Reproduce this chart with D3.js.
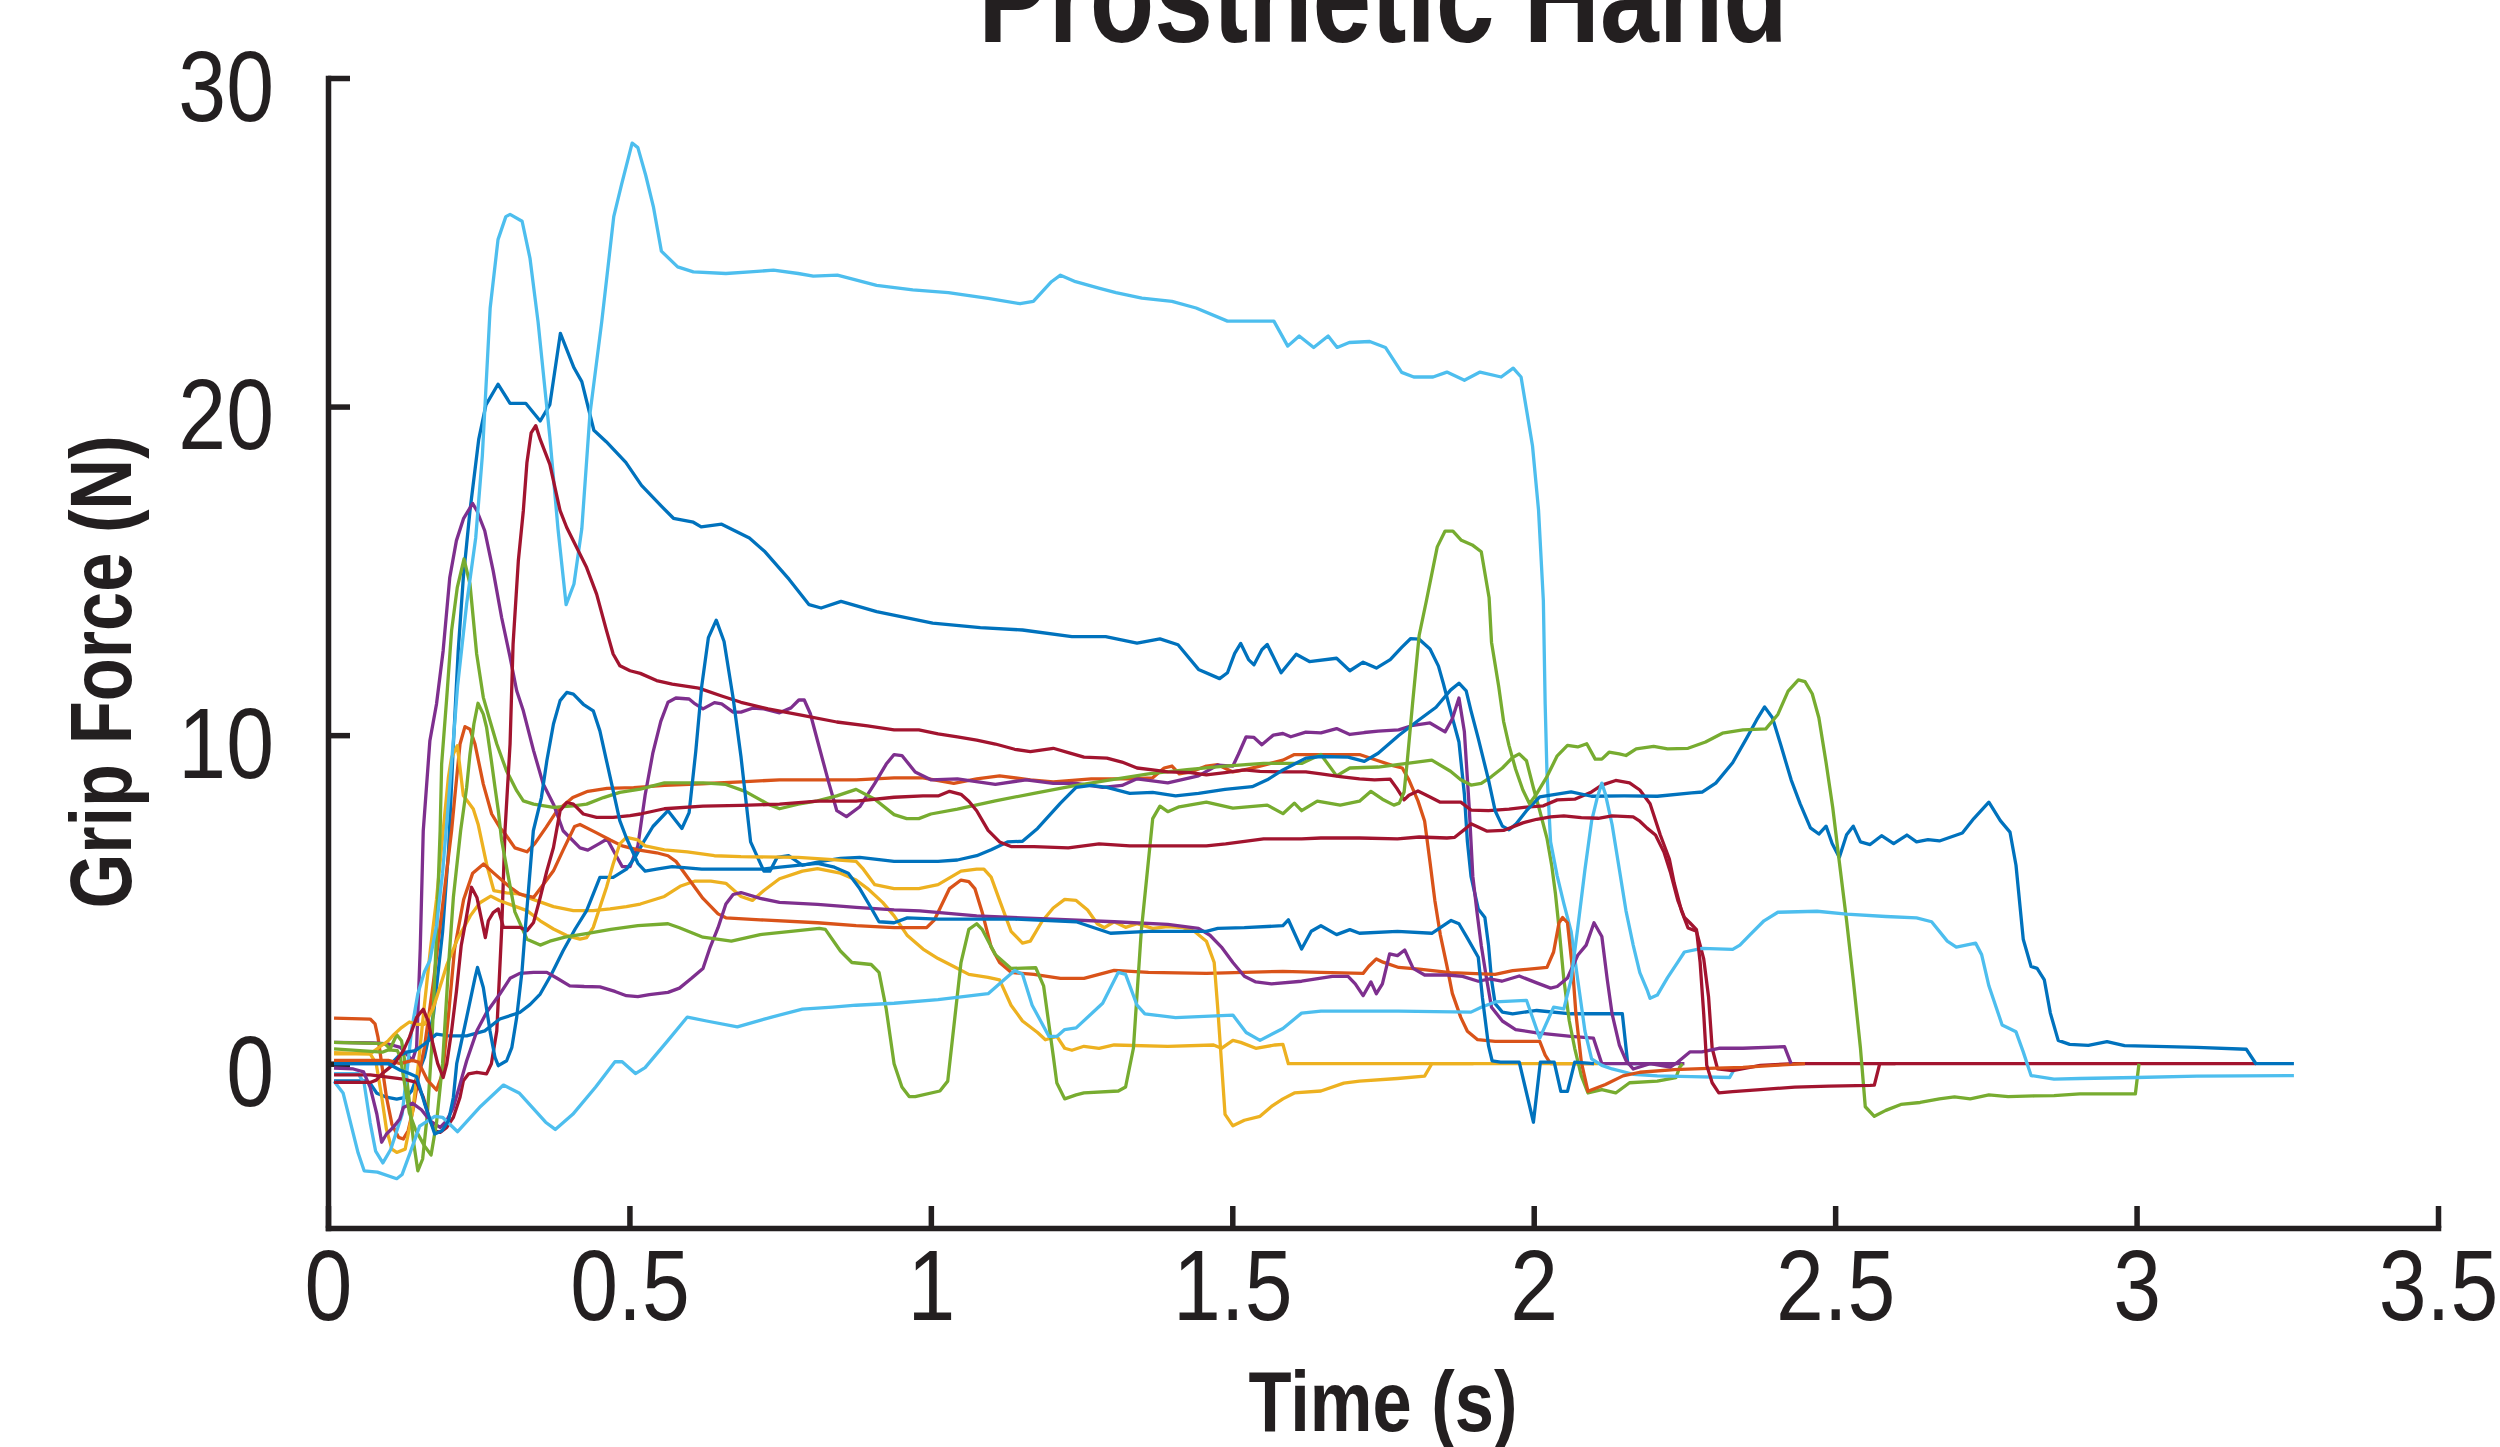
<!DOCTYPE html>
<html>
<head>
<meta charset="utf-8">
<script src="https://cdn.jsdelivr.net/npm/d3@7"></script>
<style>
  html, body { margin: 0; padding: 0; background: #fff; }
</style>
</head>
<body>
<script>
// grip force traces, [time (s), force (N)]

const blueA = [[0.01,-0.52],[0.06,-0.52],[0.07,-0.6],[0.081,-0.9],[0.097,-1.02],[0.114,-1.08],[0.13,-1.02],[0.139,-0.82],[0.147,-0.42],[0.16,0.2],[0.175,1.5],[0.19,4],[0.2,6.5],[0.208,9.73],[0.216,12.57],[0.2245,14.8],[0.23,15.81],[0.2355,16.83],[0.25,19.0],[0.262,20.05],[0.282,20.68],[0.302,20.1],[0.328,20.1],[0.352,19.56],[0.368,20.06],[0.3855,22.23],[0.408,21.18],[0.421,20.76],[0.441,19.28],[0.4615,18.93],[0.494,18.3],[0.52,17.6],[0.553,16.97],[0.573,16.6],[0.606,16.48],[0.619,16.34],[0.653,16.42],[0.699,16.0],[0.725,15.58],[0.765,14.74],[0.798,13.97],[0.818,13.87],[0.851,14.07],[0.91,13.76],[1.003,13.41],[1.082,13.27],[1.152,13.2],[1.234,13.0],[1.29,13.0],[1.342,12.8],[1.38,12.93],[1.41,12.75],[1.444,12.0],[1.479,11.72],[1.492,11.9],[1.504,12.49],[1.514,12.79],[1.527,12.3],[1.536,12.14],[1.549,12.6],[1.558,12.76],[1.581,11.9],[1.606,12.46],[1.628,12.24],[1.673,12.34],[1.695,11.96],[1.717,12.22],[1.739,12.04],[1.762,12.3],[1.781,12.67],[1.796,12.94],[1.81,12.92],[1.828,12.62],[1.842,12.1],[1.85,11.58],[1.862,10.74],[1.876,9.79],[1.885,8.2],[1.89,6.76],[1.896,5.7],[1.908,4.71],[1.919,4.45],[1.925,3.61],[1.93,2.56],[1.936,1.83],[1.948,1.57],[1.965,1.52],[2.005,1.62],[2.062,1.52],[2.147,1.52],[2.156,0],[2.2,0]];

const orangeA = [[0.01,1.39],[0.07,1.36],[0.078,1.21],[0.083,0.8],[0.089,0],[0.097,-1.02],[0.106,-1.84],[0.117,-2.24],[0.125,-2.29],[0.133,-2.04],[0.142,-1.33],[0.15,-0.4],[0.16,0.5],[0.175,2.5],[0.19,4.8],[0.205,7.09],[0.2107,8.2],[0.219,9.73],[0.2272,10.26],[0.2355,10.18],[0.2438,9.73],[0.2576,8.51],[0.2715,7.6],[0.285,7.19],[0.2936,7.0],[0.31,6.57],[0.33,6.45],[0.343,6.7],[0.362,7.2],[0.38,7.7],[0.406,8.1],[0.431,8.29],[0.463,8.38],[0.507,8.4],[0.558,8.47],[0.62,8.52],[0.685,8.58],[0.749,8.64],[0.876,8.64],[0.939,8.7],[0.987,8.7],[1.038,8.53],[1.076,8.67],[1.114,8.76],[1.165,8.64],[1.203,8.58],[1.266,8.67],[1.33,8.67],[1.368,8.7],[1.387,9.0],[1.4,9.06],[1.412,8.82],[1.431,8.88],[1.457,9.06],[1.476,9.1],[1.501,8.88],[1.52,8.94],[1.546,9.06],[1.584,9.24],[1.603,9.41],[1.647,9.41],[1.711,9.41],[1.742,9.22],[1.765,9.08],[1.782,9.0],[1.793,8.64],[1.808,8.0],[1.819,7.39],[1.828,6.13],[1.836,4.97],[1.845,3.93],[1.856,2.98],[1.865,2.14],[1.879,1.41],[1.89,0.99],[1.907,0.73],[1.936,0.68],[2.01,0.68],[2.019,0.26],[2.028,0],[2.1,0]];

const yellowA = [[0.01,0.34],[0.07,0.3],[0.08,0.0],[0.089,-1.0],[0.097,-2.0],[0.106,-2.6],[0.114,-2.7],[0.128,-2.6],[0.14,-1.5],[0.15,0],[0.16,1.8],[0.17,3.5],[0.18,5.0],[0.191,7.09],[0.1996,8.7],[0.205,9.32],[0.2145,9.68],[0.2245,8.16],[0.241,7.75],[0.249,7.29],[0.263,6.08],[0.275,5.27],[0.296,5.2],[0.318,5.17],[0.34,5.0],[0.374,4.78],[0.407,4.66],[0.44,4.66],[0.468,4.71],[0.495,4.78],[0.518,4.86],[0.558,5.09],[0.584,5.4],[0.609,5.56],[0.635,5.56],[0.66,5.49],[0.685,5.09],[0.704,4.97],[0.723,5.27],[0.749,5.63],[0.787,5.86],[0.812,5.94],[0.85,5.8],[0.876,5.59],[0.895,5.33],[0.92,4.91],[0.939,4.5],[0.961,3.9],[0.987,3.49],[1.012,3.2],[1.038,2.96],[1.063,2.72],[1.095,2.63],[1.114,2.55],[1.133,1.78],[1.152,1.3],[1.177,0.95],[1.19,0.73],[1.209,0.83],[1.222,0.47],[1.234,0.41],[1.254,0.53],[1.279,0.47],[1.304,0.57],[1.393,0.53],[1.469,0.57],[1.482,0.47],[1.501,0.71],[1.514,0.65],[1.539,0.47],[1.571,0.57],[1.584,0.59],[1.593,0],[2.107,0]];

const purpleA = [[0.01,0.65],[0.075,0.63],[0.1,0.6],[0.12,0.5],[0.13,0.3],[0.14,0.1],[0.147,0.5],[0.153,3.5],[0.158,7.09],[0.169,9.83],[0.18,10.95],[0.191,12.57],[0.202,14.8],[0.213,15.92],[0.225,16.6],[0.24,17.05],[0.247,16.83],[0.26,16.22],[0.274,15.0],[0.288,13.58],[0.302,12.37],[0.313,11.35],[0.324,10.74],[0.341,9.53],[0.357,8.51],[0.374,7.9],[0.39,7.09],[0.418,6.57],[0.431,6.5],[0.45,6.7],[0.463,6.84],[0.476,6.4],[0.488,6.0],[0.501,6.0],[0.514,6.63],[0.526,8.17],[0.539,9.47],[0.552,10.42],[0.564,11.0],[0.577,11.13],[0.599,11.1],[0.609,10.95],[0.622,10.8],[0.641,10.99],[0.653,10.95],[0.672,10.7],[0.685,10.7],[0.704,10.82],[0.723,10.8],[0.749,10.68],[0.768,10.83],[0.781,11.07],[0.79,11.07],[0.8,10.66],[0.812,9.83],[0.831,8.53],[0.844,7.7],[0.86,7.52],[0.882,7.82],[0.907,8.53],[0.926,9.12],[0.939,9.41],[0.952,9.38],[0.974,8.88],[1.0,8.64],[1.044,8.67],[1.107,8.5],[1.158,8.64],[1.203,8.53],[1.241,8.53],[1.285,8.41],[1.317,8.47],[1.342,8.67],[1.393,8.55],[1.444,8.76],[1.476,9.09],[1.501,9.06],[1.51,9.41],[1.523,9.95],[1.536,9.93],[1.549,9.71],[1.568,10.0],[1.584,10.05],[1.597,9.95],[1.622,10.09],[1.647,10.07],[1.673,10.2],[1.695,10.02],[1.719,10.08],[1.742,10.12],[1.776,10.16],[1.8,10.3],[1.828,10.37],[1.853,10.1],[1.865,10.5],[1.876,11.13],[1.885,10.1],[1.893,7.8],[1.899,5.7],[1.906,4.6],[1.913,3.6],[1.922,2.56],[1.93,1.72],[1.948,1.3],[1.97,1.04],[2.005,0.94],[2.062,0.83],[2.099,0.78],[2.113,0],[2.25,0]];

const greenA = [[0.01,0.65],[0.08,0.62],[0.095,0.6],[0.103,0.45],[0.114,0.88],[0.122,0.7],[0.128,0],[0.134,-1.0],[0.142,-2.4],[0.149,-3.26],[0.157,-2.9],[0.165,-1.5],[0.172,0.5],[0.179,3.5],[0.186,7.09],[0.1885,9.12],[0.197,11.15],[0.205,13.18],[0.2145,14.5],[0.2256,15.36],[0.2355,14.6],[0.2466,12.47],[0.2576,11.15],[0.2687,10.44],[0.28,9.73],[0.296,8.92],[0.313,8.31],[0.324,8.0],[0.341,7.9],[0.374,7.8],[0.407,7.85],[0.429,7.9],[0.457,8.1],[0.484,8.26],[0.518,8.36],[0.558,8.55],[0.622,8.55],[0.66,8.5],[0.692,8.29],[0.73,7.9],[0.749,7.76],[0.78,7.9],[0.812,8.0],[0.844,8.15],[0.876,8.35],[0.907,8.05],[0.939,7.58],[0.96,7.46],[0.98,7.46],[1.0,7.6],[1.044,7.75],[1.107,8.0],[1.171,8.23],[1.234,8.45],[1.298,8.64],[1.361,8.82],[1.425,8.95],[1.488,9.06],[1.552,9.14],[1.615,9.14],[1.647,9.41],[1.673,8.76],[1.695,9.0],[1.742,9.03],[1.79,9.14],[1.831,9.24],[1.862,8.9],[1.879,8.64],[1.896,8.48],[1.913,8.53],[1.93,8.74],[1.948,9.0],[1.965,9.32],[1.976,9.43],[1.988,9.22],[1.999,8.43],[2.01,7.7],[2.022,6.86],[2.03,6.02],[2.036,5.18],[2.042,4.13],[2.05,2.56],[2.059,1.3],[2.068,0.47],[2.079,-0.37],[2.09,-0.89],[2.113,-0.79],[2.136,-0.89],[2.159,-0.58],[2.205,-0.53],[2.236,-0.42],[2.242,-0.11],[2.247,0]];

const lightBlueA = [[0.01,-0.3],[0.05,-0.3],[0.06,-0.6],[0.07,-1.8],[0.079,-2.66],[0.091,-3.02],[0.104,-2.61],[0.123,-1.54],[0.139,1.07],[0.149,2.13],[0.16,2.8],[0.169,3.14],[0.18,4.2],[0.19,5.8],[0.2,8],[0.215,11.5],[0.23,14],[0.245,16],[0.256,18.5],[0.269,23.0],[0.282,25.08],[0.295,25.78],[0.302,25.85],[0.322,25.64],[0.335,24.52],[0.3485,22.57],[0.368,19.07],[0.3815,16.28],[0.395,13.97],[0.408,14.6],[0.421,16.28],[0.4345,19.77],[0.454,22.57],[0.474,25.78],[0.487,26.76],[0.5045,28.02],[0.514,27.88],[0.527,27.04],[0.54,26.06],[0.553,24.73],[0.58,24.25],[0.606,24.1],[0.66,24.05],[0.7,24.1],[0.739,24.15],[0.78,24.05],[0.805,23.97],[0.845,24.0],[0.91,23.69],[0.97,23.55],[1.029,23.47],[1.095,23.29],[1.148,23.13],[1.17,23.2],[1.2,23.8],[1.215,24.0],[1.24,23.8],[1.28,23.6],[1.307,23.47],[1.35,23.3],[1.4,23.2],[1.44,23.0],[1.492,22.6],[1.529,22.6],[1.569,22.6],[1.592,21.84],[1.611,22.15],[1.635,21.8],[1.659,22.15],[1.674,21.8],[1.694,21.95],[1.728,21.98],[1.754,21.8],[1.781,21.04],[1.801,20.9],[1.833,20.9],[1.856,21.05],[1.885,20.8],[1.911,21.05],[1.946,20.9],[1.966,21.17],[1.979,20.9],[1.989,19.8],[1.998,18.8],[2.008,16.85],[2.016,14.09],[2.019,10.95],[2.022,8.85],[2.028,6.75],[2.039,5.71],[2.05,4.87],[2.062,4.03],[2.073,2.56],[2.085,0.99],[2.096,0.15],[2.113,-0.05],[2.13,-0.16],[2.165,-0.32],[2.205,-0.37],[2.262,-0.39],[2.325,-0.42],[2.333,-0.16]];

const darkRedA = [[0.01,-0.34],[0.07,-0.34],[0.125,-0.47],[0.147,-0.57],[0.158,-1.02],[0.169,-1.73],[0.177,-2.04],[0.186,-2.09],[0.197,-1.94],[0.208,-1.63],[0.219,-1.02],[0.2245,-0.52],[0.233,-0.31],[0.247,-0.26],[0.263,-0.31],[0.271,0],[0.28,1.0],[0.288,4.05],[0.2936,7.09],[0.302,9.73],[0.307,12.77],[0.3157,15.3],[0.324,16.83],[0.33,18.3],[0.337,19.2],[0.3446,19.42],[0.352,19.0],[0.368,18.24],[0.385,16.83],[0.396,16.32],[0.4125,15.71],[0.429,15.1],[0.4456,14.29],[0.462,13.18],[0.473,12.47],[0.4843,12.11],[0.501,11.96],[0.518,11.88],[0.545,11.66],[0.571,11.55],[0.615,11.43],[0.653,11.19],[0.685,11.0],[0.73,10.8],[0.787,10.6],[0.844,10.4],[0.895,10.28],[0.939,10.16],[0.98,10.16],[1.012,10.04],[1.044,9.95],[1.076,9.85],[1.107,9.73],[1.139,9.57],[1.165,9.5],[1.203,9.6],[1.228,9.47],[1.254,9.33],[1.292,9.3],[1.317,9.18],[1.342,9.0],[1.368,8.94],[1.393,8.88],[1.431,8.86],[1.457,8.79],[1.488,8.86],[1.52,8.94],[1.546,8.9],[1.584,8.88],[1.622,8.88],[1.647,8.82],[1.679,8.74],[1.711,8.67],[1.736,8.64],[1.762,8.66],[1.773,8.38],[1.785,8.03],[1.793,8.17],[1.808,8.3],[1.828,8.12],[1.845,7.96],[1.879,7.96],[1.896,7.72],[1.925,7.7],[1.959,7.75],[1.993,7.82],[2.016,7.85],[2.039,8.03],[2.068,8.05],[2.096,8.27],[2.113,8.48],[2.136,8.62],[2.159,8.55],[2.176,8.33],[2.193,7.91],[2.21,6.96],[2.225,6.23],[2.233,5.5],[2.245,4.66],[2.256,4.13],[2.27,4.03],[2.282,3.19],[2.29,2.04],[2.296,0.47],[2.305,-0.16],[2.33,-0.21],[2.376,-0.05],[2.433,0],[3.198,0]];

const blueB = [[0.01,0],[0.105,0],[0.118,0.25],[0.13,0.35],[0.145,0.4],[0.16,0.6],[0.18,0.9],[0.2,0.85],[0.23,0.85],[0.26,1.0],[0.285,1.36],[0.318,1.56],[0.335,1.8],[0.352,2.12],[0.37,2.7],[0.39,3.44],[0.41,4.1],[0.429,4.66],[0.451,5.67],[0.473,5.67],[0.495,5.92],[0.51,6.3],[0.525,6.8],[0.539,7.22],[0.564,7.7],[0.587,7.16],[0.599,7.64],[0.61,9.5],[0.62,11.5],[0.631,12.97],[0.644,13.5],[0.657,12.85],[0.672,11.13],[0.685,9.35],[0.701,6.75],[0.723,5.86],[0.733,5.86],[0.745,6.28],[0.764,6.33],[0.787,6.04],[0.818,6.16],[0.85,6.25],[0.882,6.28],[0.939,6.16],[1.012,6.16],[1.044,6.2],[1.076,6.33],[1.1,6.51],[1.127,6.75],[1.152,6.77],[1.177,7.16],[1.215,7.93],[1.241,8.41],[1.266,8.47],[1.292,8.41],[1.33,8.23],[1.368,8.26],[1.406,8.15],[1.444,8.23],[1.488,8.35],[1.533,8.43],[1.558,8.64],[1.584,8.94],[1.622,9.3],[1.647,9.35],[1.692,9.33],[1.719,9.2],[1.742,9.45],[1.776,9.99],[1.81,10.47],[1.838,10.85],[1.862,11.37],[1.876,11.58],[1.888,11.35],[1.896,10.74],[1.908,9.9],[1.925,8.64],[1.936,7.7],[1.948,7.23],[1.959,7.12],[1.971,7.3],[1.988,7.7],[2.01,8.12],[2.062,8.27],[2.096,8.14],[2.15,8.15],[2.205,8.14],[2.262,8.24],[2.28,8.27],[2.302,8.54],[2.33,9.16],[2.353,9.9],[2.37,10.47],[2.383,10.86],[2.396,10.53],[2.41,9.69],[2.427,8.64],[2.442,7.91],[2.459,7.18],[2.473,6.99],[2.485,7.23],[2.495,6.7],[2.507,6.28],[2.519,6.97],[2.53,7.23],[2.542,6.75],[2.558,6.67],[2.577,6.94],[2.597,6.7],[2.619,6.96],[2.635,6.75],[2.654,6.82],[2.673,6.78],[2.711,7.02],[2.73,7.46],[2.755,7.96],[2.774,7.4],[2.79,7.05],[2.8,6.04],[2.812,3.79],[2.825,2.96],[2.835,2.9],[2.847,2.55],[2.857,1.54],[2.87,0.71],[2.889,0.59],[2.92,0.56],[2.951,0.67],[2.98,0.55],[3.05,0.52],[3.1,0.5],[3.182,0.44],[3.198,0],[3.261,0]];

const orangeB = [[0.01,0.1],[0.1,0.1],[0.12,0.0],[0.14,0.1],[0.15,0.05],[0.165,-0.5],[0.18,-0.8],[0.19,-0.3],[0.2,1.5],[0.21,3.5],[0.225,5.0],[0.24,5.8],[0.258,6.08],[0.275,5.8],[0.3,5.4],[0.318,5.16],[0.341,5.06],[0.355,5.4],[0.374,5.87],[0.39,6.5],[0.409,7.22],[0.418,7.28],[0.444,7.04],[0.469,6.8],[0.488,6.63],[0.514,6.51],[0.545,6.42],[0.564,6.33],[0.577,6.16],[0.596,5.68],[0.622,5.03],[0.647,4.56],[0.66,4.44],[0.717,4.38],[0.812,4.29],[0.876,4.2],[0.939,4.14],[0.993,4.14],[1.006,4.38],[1.031,5.33],[1.05,5.59],[1.063,5.54],[1.073,5.33],[1.085,4.62],[1.1,3.55],[1.114,3.08],[1.133,2.78],[1.171,2.72],[1.215,2.6],[1.254,2.6],[1.279,2.72],[1.304,2.84],[1.361,2.78],[1.457,2.75],[1.584,2.81],[1.647,2.78],[1.717,2.75],[1.726,2.96],[1.739,3.19],[1.75,3.09],[1.776,2.93],[1.81,2.88],[1.862,2.77],[1.936,2.72],[1.965,2.83],[2.022,2.93],[2.033,3.4],[2.042,4.29],[2.048,4.45],[2.056,4.29],[2.065,2.77],[2.07,1.52],[2.079,0.05],[2.09,-0.84],[2.119,-0.63],[2.148,-0.37],[2.176,-0.26],[2.233,-0.18],[2.29,-0.14],[2.347,-0.11],[2.399,-0.05],[2.45,0]];

const yellowB = [[0.01,0.3],[0.07,0.3],[0.085,0.5],[0.1,0.7],[0.11,0.9],[0.122,1.1],[0.135,1.27],[0.147,1.2],[0.16,1.2],[0.175,1.71],[0.197,3.0],[0.215,3.8],[0.236,4.5],[0.252,4.9],[0.27,5.1],[0.285,4.96],[0.307,4.81],[0.33,4.66],[0.352,4.35],[0.374,4.1],[0.396,3.9],[0.418,3.79],[0.429,3.84],[0.44,4.15],[0.451,4.76],[0.462,5.37],[0.473,6.08],[0.484,6.69],[0.495,6.89],[0.514,6.81],[0.526,6.63],[0.558,6.51],[0.596,6.45],[0.641,6.33],[0.685,6.3],[0.78,6.28],[0.831,6.22],[0.876,6.16],[0.888,5.92],[0.907,5.45],[0.939,5.33],[0.98,5.33],[1.012,5.45],[1.05,5.86],[1.076,5.92],[1.088,5.92],[1.1,5.68],[1.114,4.97],[1.133,4.03],[1.152,3.67],[1.165,3.73],[1.184,4.32],[1.203,4.74],[1.222,5.0],[1.241,4.97],[1.26,4.68],[1.276,4.26],[1.288,4.14],[1.304,4.32],[1.323,4.15],[1.342,4.26],[1.368,4.12],[1.393,4.17],[1.418,4.14],[1.437,4.03],[1.457,3.73],[1.47,3.08],[1.476,1.66],[1.488,-1.54],[1.501,-1.89],[1.52,-1.72],[1.546,-1.6],[1.565,-1.3],[1.584,-1.07],[1.603,-0.89],[1.647,-0.83],[1.685,-0.59],[1.711,-0.53],[1.774,-0.45],[1.819,-0.38],[1.831,0],[1.9,0]];

const purpleB = [[0.01,-0.13],[0.042,-0.16],[0.059,-0.25],[0.07,-0.72],[0.081,-1.53],[0.089,-2.39],[0.097,-2.14],[0.108,-1.94],[0.119,-1.68],[0.125,-1.33],[0.14,-1.2],[0.155,-1.4],[0.17,-1.75],[0.186,-1.94],[0.197,-1.73],[0.208,-1.33],[0.219,-0.62],[0.23,0.09],[0.247,1.0],[0.263,1.56],[0.285,2.12],[0.302,2.6],[0.318,2.75],[0.341,2.78],[0.363,2.78],[0.38,2.6],[0.401,2.37],[0.425,2.35],[0.451,2.34],[0.476,2.2],[0.495,2.07],[0.514,2.04],[0.533,2.1],[0.564,2.17],[0.583,2.3],[0.603,2.6],[0.622,2.9],[0.634,3.55],[0.647,4.14],[0.66,4.86],[0.672,5.15],[0.685,5.21],[0.717,5.03],[0.749,4.91],[0.812,4.85],[0.876,4.76],[0.939,4.68],[0.982,4.65],[1.076,4.5],[1.203,4.4],[1.304,4.32],[1.393,4.24],[1.444,4.12],[1.463,3.91],[1.482,3.55],[1.501,3.08],[1.52,2.66],[1.539,2.49],[1.565,2.43],[1.615,2.51],[1.666,2.66],[1.692,2.66],[1.704,2.43],[1.717,2.07],[1.73,2.49],[1.739,2.13],[1.749,2.43],[1.761,3.34],[1.774,3.29],[1.786,3.46],[1.8,2.9],[1.819,2.7],[1.857,2.7],[1.882,2.66],[1.908,2.51],[1.927,2.58],[1.947,2.51],[1.976,2.67],[2.005,2.46],[2.028,2.3],[2.039,2.35],[2.056,2.61],[2.073,3.3],[2.087,3.61],[2.1,4.29],[2.113,3.87],[2.122,2.56],[2.13,1.52],[2.142,0.57],[2.153,0.1],[2.165,-0.16],[2.193,0],[2.227,-0.1],[2.239,0.05],[2.259,0.36],[2.279,0.36],[2.307,0.47],[2.347,0.47],[2.416,0.52],[2.427,0]];

const greenB = [[0.01,0.45],[0.09,0.35],[0.1,0.42],[0.115,0.4],[0.12,0.2],[0.127,-0.6],[0.135,-1.5],[0.145,-2.0],[0.16,-2.5],[0.171,-2.78],[0.18,-1.8],[0.19,0],[0.2,3],[0.208,5.07],[0.22,7.09],[0.23,8.41],[0.2355,9.42],[0.242,10.34],[0.2488,10.97],[0.2576,10.64],[0.263,10.24],[0.271,9.22],[0.277,8.41],[0.2825,7.7],[0.288,6.8],[0.298,5.8],[0.31,4.62],[0.33,3.79],[0.352,3.61],[0.368,3.73],[0.393,3.85],[0.431,3.97],[0.469,4.09],[0.514,4.2],[0.564,4.26],[0.583,4.14],[0.622,3.85],[0.669,3.73],[0.717,3.93],[0.768,4.03],[0.815,4.12],[0.825,4.09],[0.85,3.43],[0.869,3.08],[0.901,3.02],[0.914,2.78],[0.926,1.66],[0.939,0],[0.952,-0.71],[0.964,-1.0],[0.974,-1.0],[1.015,-0.83],[1.028,-0.53],[1.05,3.08],[1.063,4.09],[1.076,4.26],[1.085,4.09],[1.107,3.32],[1.133,2.9],[1.174,2.92],[1.187,2.37],[1.203,0.24],[1.209,-0.59],[1.222,-1.07],[1.241,-0.95],[1.254,-0.89],[1.311,-0.83],[1.323,-0.71],[1.336,0.47],[1.349,4.03],[1.368,7.46],[1.38,7.84],[1.393,7.67],[1.412,7.82],[1.457,7.96],[1.501,7.78],[1.558,7.87],[1.584,7.61],[1.603,7.93],[1.615,7.7],[1.641,7.99],[1.679,7.87],[1.711,7.99],[1.73,8.29],[1.749,8.05],[1.768,7.87],[1.777,7.93],[1.785,8.27],[1.79,9.16],[1.799,10.95],[1.81,13.04],[1.822,14.09],[1.84,15.73],[1.853,16.21],[1.866,16.21],[1.88,15.93],[1.898,15.79],[1.913,15.58],[1.926,14.18],[1.93,12.83],[1.942,11.47],[1.95,10.42],[1.959,9.69],[1.97,8.96],[1.982,8.33],[1.993,7.91],[2.005,8.22],[2.022,8.74],[2.039,9.37],[2.056,9.69],[2.073,9.64],[2.088,9.74],[2.102,9.27],[2.113,9.27],[2.125,9.48],[2.142,9.43],[2.153,9.38],[2.17,9.58],[2.199,9.66],[2.222,9.58],[2.256,9.6],[2.285,9.79],[2.313,10.06],[2.347,10.16],[2.385,10.19],[2.405,10.63],[2.422,11.34],[2.439,11.68],[2.45,11.63],[2.462,11.26],[2.473,10.53],[2.485,9.16],[2.496,7.8],[2.507,6.13],[2.519,4.35],[2.53,2.56],[2.542,0.47],[2.55,-1.31],[2.565,-1.6],[2.584,-1.42],[2.609,-1.24],[2.641,-1.18],[2.673,-1.07],[2.698,-1.01],[2.724,-1.07],[2.755,-0.95],[2.787,-1.0],[2.831,-0.98],[2.863,-0.97],[2.906,-0.92],[2.95,-0.92],[2.998,-0.92],[3.004,0]];

const lightBlueB = [[0.01,-0.53],[0.025,-0.89],[0.05,-2.72],[0.06,-3.26],[0.082,-3.3],[0.114,-3.5],[0.123,-3.37],[0.136,-2.72],[0.152,-1.9],[0.177,-1.6],[0.19,-1.63],[0.215,-2.07],[0.253,-1.3],[0.291,-0.65],[0.317,-0.89],[0.361,-1.78],[0.377,-2.0],[0.406,-1.54],[0.444,-0.71],[0.476,0.06],[0.488,0.06],[0.51,-0.3],[0.526,-0.12],[0.564,0.71],[0.596,1.42],[0.628,1.3],[0.679,1.12],[0.736,1.42],[0.787,1.66],[0.837,1.72],[0.876,1.78],[0.939,1.84],[1.012,1.95],[1.095,2.13],[1.139,2.84],[1.152,2.72],[1.168,1.78],[1.196,0.83],[1.209,0.83],[1.222,1.04],[1.241,1.09],[1.285,1.84],[1.311,2.78],[1.323,2.72],[1.342,1.78],[1.355,1.52],[1.406,1.40],[1.501,1.48],[1.523,0.95],[1.546,0.71],[1.584,1.07],[1.615,1.54],[1.647,1.6],[1.776,1.6],[1.896,1.57],[1.913,1.72],[1.936,1.88],[1.988,1.93],[2.01,0.78],[2.033,1.72],[2.05,1.67],[2.062,2.56],[2.073,4.13],[2.085,5.91],[2.096,7.38],[2.105,8.07],[2.113,8.54],[2.119,8.2],[2.13,7.28],[2.142,5.92],[2.153,4.66],[2.165,3.61],[2.176,2.77],[2.188,2.25],[2.193,1.99],[2.205,2.09],[2.222,2.62],[2.239,3.09],[2.25,3.4],[2.279,3.51],[2.33,3.48],[2.342,3.61],[2.359,3.93],[2.382,4.35],[2.405,4.61],[2.47,4.64],[2.519,4.55],[2.584,4.48],[2.635,4.44],[2.66,4.32],[2.686,3.73],[2.701,3.55],[2.733,3.67],[2.743,3.32],[2.755,2.37],[2.777,1.18],[2.8,0.97],[2.812,0.36],[2.825,-0.36],[2.863,-0.47],[2.906,-0.45],[3.0,-0.42],[3.1,-0.38],[3.261,-0.36]];

const darkRedB = [[0.01,-0.57],[0.07,-0.57],[0.08,-0.5],[0.09,-0.3],[0.1,-0.15],[0.11,0],[0.125,0.4],[0.135,0.8],[0.147,1.41],[0.158,1.66],[0.166,1.3],[0.174,0.6],[0.182,0],[0.191,-0.42],[0.197,0],[0.205,1.0],[0.213,2.2],[0.221,3.6],[0.229,4.4],[0.238,5.37],[0.247,5.06],[0.254,4.45],[0.261,3.84],[0.266,4.35],[0.274,4.6],[0.2825,4.71],[0.291,4.15],[0.302,4.15],[0.318,4.15],[0.33,4.05],[0.341,4.3],[0.352,5.06],[0.363,5.87],[0.374,6.58],[0.385,7.7],[0.396,7.95],[0.407,7.9],[0.4235,7.6],[0.4456,7.5],[0.473,7.5],[0.501,7.55],[0.518,7.6],[0.558,7.76],[0.622,7.84],[0.685,7.86],[0.749,7.9],[0.812,7.99],[0.876,7.99],[0.939,8.11],[0.987,8.15],[1.012,8.15],[1.031,8.29],[1.05,8.2],[1.063,7.99],[1.076,7.7],[1.095,7.1],[1.114,6.75],[1.133,6.61],[1.171,6.61],[1.228,6.57],[1.279,6.69],[1.33,6.63],[1.393,6.63],[1.457,6.63],[1.489,6.69],[1.552,6.84],[1.615,6.84],[1.647,6.87],[1.711,6.87],[1.774,6.84],[1.81,6.9],[1.856,6.87],[1.869,6.89],[1.888,7.17],[1.896,7.3],[1.922,7.08],[1.95,7.1],[1.982,7.33],[2.005,7.44],[2.028,7.51],[2.05,7.54],[2.079,7.49],[2.107,7.47],[2.13,7.54],[2.165,7.51],[2.176,7.38],[2.188,7.17],[2.202,6.96],[2.216,6.44],[2.227,5.81],[2.239,4.97],[2.25,4.45],[2.259,4.29],[2.27,4.08],[2.276,3.09],[2.282,1.52],[2.287,-0.05],[2.296,-0.58],[2.307,-0.89],[2.33,-0.85],[2.376,-0.79],[2.433,-0.71],[2.49,-0.68],[2.558,-0.66],[2.565,-0.65],[2.574,0],[2.6,0]];

const blueC = [[0.01,0],[0.1,0],[0.12,-0.2],[0.135,-0.3],[0.147,-0.4],[0.16,-1.2],[0.177,-2.14],[0.189,-2.04],[0.2,-1.73],[0.208,-1.02],[0.2135,0],[0.23,1.41],[0.244,2.63],[0.248,2.93],[0.2576,2.32],[0.2687,1.0],[0.277,0.19],[0.2825,-0.06],[0.2963,0.09],[0.305,0.5],[0.313,1.41],[0.3219,2.83],[0.327,4.05],[0.3325,5.27],[0.3406,7.09],[0.354,8.1],[0.363,9.22],[0.374,10.34],[0.385,11.05],[0.396,11.3],[0.407,11.25],[0.4235,10.94],[0.44,10.74],[0.451,10.13],[0.462,9.22],[0.473,8.31],[0.484,7.4],[0.495,6.87],[0.514,6.1],[0.526,5.86],[0.545,5.92],[0.571,6.0],[0.62,5.92],[0.72,5.92],[0.75,5.98],[0.812,6.1],[0.84,5.98],[0.863,5.8],[0.882,5.33],[0.901,4.74],[0.914,4.32],[0.939,4.29],[0.961,4.44],[1.012,4.4],[1.139,4.4],[1.241,4.32],[1.298,3.97],[1.361,4.03],[1.457,4.03],[1.476,4.12],[1.52,4.14],[1.584,4.2],[1.593,4.38],[1.615,3.49],[1.631,4.03],[1.647,4.2],[1.673,3.93],[1.695,4.08],[1.711,3.97],[1.774,4.03],[1.831,3.97],[1.863,4.36],[1.876,4.26],[1.89,3.82],[1.908,3.24],[1.915,2.0],[1.925,0.55],[1.931,0.09],[1.945,0.05],[1.976,0.05],[1.9995,-1.78],[2.011,0.05],[2.034,0.05],[2.045,-0.84],[2.056,-0.84],[2.068,0.05],[2.1,0]];

const xTicks = [0, 0.5, 1, 1.5, 2, 2.5, 3, 3.5];
const yTicks = [0, 10, 20, 30];

// matlab default line colours
const palette = {
  blue: '#0072BD', orange: '#D95319', yellow: '#EDB120', purple: '#7E2F8E',
  green: '#77AC30', lightBlue: '#4DBEEE', darkRed: '#A2142F'
};

// plot order = colour order, later traces sit on top
const traces = [
  [blueA, palette.blue], [orangeA, palette.orange], [yellowA, palette.yellow],
  [purpleA, palette.purple], [greenA, palette.green], [lightBlueA, palette.lightBlue],
  [darkRedA, palette.darkRed],
  [blueB, palette.blue], [orangeB, palette.orange], [yellowB, palette.yellow],
  [purpleB, palette.purple], [greenB, palette.green], [lightBlueB, palette.lightBlue],
  [darkRedB, palette.darkRed],
  [blueC, palette.blue]
];

const width = 2500, height = 1447;
const ink = '#231f20';
const font = "'Liberation Sans', Arial, Helvetica, sans-serif";
const squeeze = 0.86;   // tick labels are a condensed face

const svg = d3.select('body').append('svg')
  .attr('width', width)
  .attr('height', height);

svg.append('rect').attr('width', width).attr('height', height).attr('fill', '#fff');

const x = d3.scaleLinear().domain([0, 3.5]).range([328, 2438]);
const y = d3.scaleLinear().domain([-5, 30]).range([1228, 78]);

// axes, ticks point inward
const xAxis = d3.axisBottom(x)
  .tickValues(xTicks)
  .tickFormat(d3.format('~g'))
  .tickSizeInner(-22)
  .tickSizeOuter(0)
  .tickPadding(21);
const gx = svg.append('g')
  .attr('transform', `translate(0,${y.range()[0]})`)
  .call(xAxis);

const yAxis = d3.axisLeft(y)
  .tickValues(yTicks)
  .tickFormat(d3.format('d'))
  .tickSizeInner(-22)
  .tickSizeOuter(0)
  .tickPadding(54);
const gy = svg.append('g')
  .attr('transform', `translate(${x.range()[0]},0)`)
  .call(yAxis);

[gx, gy].forEach(g => {
  g.attr('font-family', null).attr('font-size', null);
  g.select('.domain').attr('stroke', ink).attr('stroke-width', 5.5).attr('stroke-linecap', 'square');
  g.selectAll('.tick line').attr('stroke', ink).attr('stroke-width', 5.5);
  g.selectAll('.tick text')
    .attr('fill', ink)
    .attr('font-family', font)
    .attr('font-size', 100);
});
gx.selectAll('.tick text').attr('transform', `scale(${squeeze},1)`);
gy.selectAll('.tick text')
  .attr('x', -54 / squeeze)
  .attr('dy', '0.42em')
  .attr('transform', `scale(${squeeze},1)`);

// traces
const line = d3.line()
  .x(d => x(d[0]))
  .y(d => y(d[1]));

svg.append('g')
  .selectAll('path')
  .data(traces)
  .join('path')
  .attr('d', d => line(d[0]))
  .attr('fill', 'none')
  .attr('stroke', d => d[1])
  .attr('stroke-width', 3.3)
  .attr('stroke-linejoin', 'round');

// labels
svg.append('text')
  .attr('transform', `translate(${(x.range()[0] + x.range()[1]) / 2},42) scale(0.8,1)`)
  .attr('text-anchor', 'middle')
  .attr('font-family', font)
  .attr('font-weight', 'bold')
  .attr('font-size', 132)
  .attr('fill', ink)
  .text('Prosthetic Hand');

svg.append('text')
  .attr('transform', `translate(${(x.range()[0] + x.range()[1]) / 2},1431) scale(0.82,1)`)
  .attr('text-anchor', 'middle')
  .attr('font-family', font)
  .attr('font-weight', 'bold')
  .attr('font-size', 86)
  .attr('fill', ink)
  .text('Time (s)');

svg.append('text')
  .attr('transform', 'translate(131,672) rotate(-90) scale(0.8,1)')
  .attr('text-anchor', 'middle')
  .attr('font-family', font)
  .attr('font-weight', 'bold')
  .attr('font-size', 88)
  .attr('fill', ink)
  .text('Grip Force (N)');
</script>
</body>
</html>
